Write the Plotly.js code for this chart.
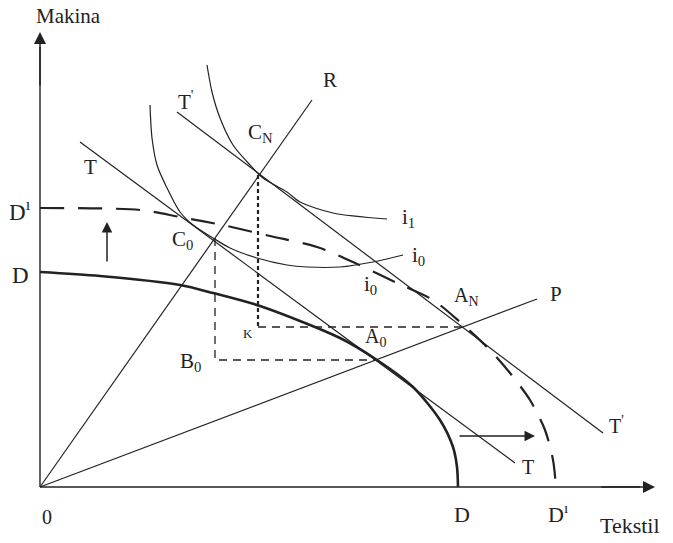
<!DOCTYPE html>
<html>
<head>
<meta charset="utf-8">
<script src="https://cdn.plot.ly/plotly-3.0.1.min.js"></script>
<style>html,body{margin:0;padding:0;background:#fff;}#chart{width:673px;height:543px;}</style>
</head>
<body>
<div id="chart"></div>
<script>
// Production possibility frontier D (original)
const ppfX = [0, 60, 140, 173, 220, 300, 337, 373, 400, 413, 417, 418];
const ppfY = [215, 211, 202, 194, 181, 149, 127, 100, 67, 40, 20, 0];
// Shifted frontier D'
const ppf2X = [0, 100, 140, 187, 230, 277, 317, 357, 393, 420, 447, 470, 490, 505, 513, 516];
const ppf2Y = [279, 277, 270, 261, 251, 240, 223, 204, 187, 165, 140, 114, 87, 57, 27, 0];
// Rays R and P
const rayRX = [0, 272];  const rayRY = [0, 387];
const rayPX = [0, 497];  const rayPY = [0, 188];
// Price lines T and T'
const lineTX = [40, 475];   const lineTY = [345, 24];
const lineT2X = [137, 563]; const lineT2Y = [375, 54];
// Indifference curves i0 and i1
const i0X = [110, 112, 117, 127, 140, 153, 173, 190, 217, 247, 267, 300, 333, 363];
const i0Y = [382, 349, 322, 299, 275, 262, 249, 239, 229, 222, 220, 220, 225, 232];
const i1X = [167, 172, 180, 193, 210, 223, 247, 260, 293, 347];
const i1Y = [422, 395, 369, 342, 322, 309, 295, 285, 274, 268];
// Construction lines C0-B0-A0 and CN-K-AN
const b0X = [175, 175, 337]; const b0Y = [249, 127, 127];
const kVX = [218, 218];      const kVY = [312, 160];
const kHX = [218, 422];      const kHY = [160, 160];

const ink = '#222';
const serif = 'Liberation Serif, Times New Roman, serif';

function tr(x, y, w, dash, shape) {
  return {x: x, y: y, type: 'scatter', mode: 'lines', hoverinfo: 'skip',
    line: {color: ink, width: w, dash: dash || 'solid', shape: shape || 'linear', smoothing: 0.8}};
}

const data = [
  tr([0, 0], [0, 440], 1.4),
  tr([0, 600], [0, 0], 1.4),
  tr(ppfX, ppfY, 2.6, 'solid', 'spline'),
  tr(ppf2X, ppf2Y, 2.2, '24px,14px', 'spline'),
  tr(rayRX, rayRY, 1.2),
  tr(rayPX, rayPY, 1.2),
  tr(lineTX, lineTY, 1.2),
  tr(lineT2X, lineT2Y, 1.2),
  tr(i0X, i0Y, 1.2, 'solid', 'spline'),
  tr(i1X, i1Y, 1.2, 'solid', 'spline'),
  tr(b0X, b0Y, 1.3, '8px,6px'),
  tr(kVX, kVY, 2.2, '4px,3px'),
  tr(kHX, kHY, 1.3, '8px,6px'),
  tr([0, 7], [279, 279], 1.4)
];

const labels = [
  ['Makina', 28, 471, 21, 'center'],
  ['R', 290, 407, 21, 'center'],
  ["T<sup>'</sup>", 146, 387, 21, 'center'],
  ['C<sub>N</sub>', 220, 354, 21, 'center'],
  ['T', 50, 320, 21, 'center'],
  ["D<sup>ı</sup>", -20, 277, 23, 'center'],
  ['C<sub>0</sub>', 142, 247, 21, 'center'],
  ['i<sub>1</sub>', 368, 269, 21, 'center'],
  ['i<sub>0</sub>', 378, 231, 21, 'center'],
  ['i<sub>0</sub>', 330, 202, 21, 'center'],
  ['D', -20, 212, 23, 'center'],
  ['A<sub>N</sub>', 426, 191, 20, 'center'],
  ['P', 516, 193, 21, 'center'],
  ['K', 208, 154, 13, 'center'],
  ['A<sub>0</sub>', 335, 150, 20, 'center'],
  ['B<sub>0</sub>', 150, 125, 21, 'center'],
  ["T<sup>'</sup>", 576, 62, 20, 'center'],
  ['T', 488, 20, 20, 'center'],
  ['0', 7, -30, 20, 'center'],
  ['D', 422, -27, 22, 'center'],
  ["D<sup>ı</sup>", 518, -26, 22, 'center'],
  ['Tekstil', 558, -38, 22, 'left']
];

const annotations = labels.map(l => ({
  text: l[0], x: l[1], y: l[2], xref: 'x', yref: 'y', showarrow: false,
  xanchor: l[4], yanchor: 'middle', font: {family: serif, size: l[3], color: ink}
}));

function arrow(x0, y0, x1, y1, size) {
  return {x: x1, y: y1, ax: x0, ay: y0, xref: 'x', yref: 'y', axref: 'x', ayref: 'y',
    text: '', showarrow: true, arrowhead: 2, arrowsize: size, arrowwidth: 1.5,
    arrowcolor: ink, standoff: 0, startstandoff: 0};
}
annotations.push(arrow(0, 400, 0, 455, 1.6));
annotations.push(arrow(560, 0, 615, 0, 1.6));
annotations.push(arrow(67, 224, 67, 265, 1.4));
annotations.push(arrow(418, 51, 495, 51, 1.4));

const layout = {
  width: 673, height: 543,
  margin: {l: 0, r: 0, t: 0, b: 0},
  paper_bgcolor: '#fff', plot_bgcolor: '#fff',
  showlegend: false,
  xaxis: {range: [-40, 633], visible: false, fixedrange: true},
  yaxis: {range: [-56, 487], visible: false, fixedrange: true},
  annotations: annotations
};

Plotly.newPlot('chart', data, layout, {staticPlot: true});
</script>
</body>
</html>
